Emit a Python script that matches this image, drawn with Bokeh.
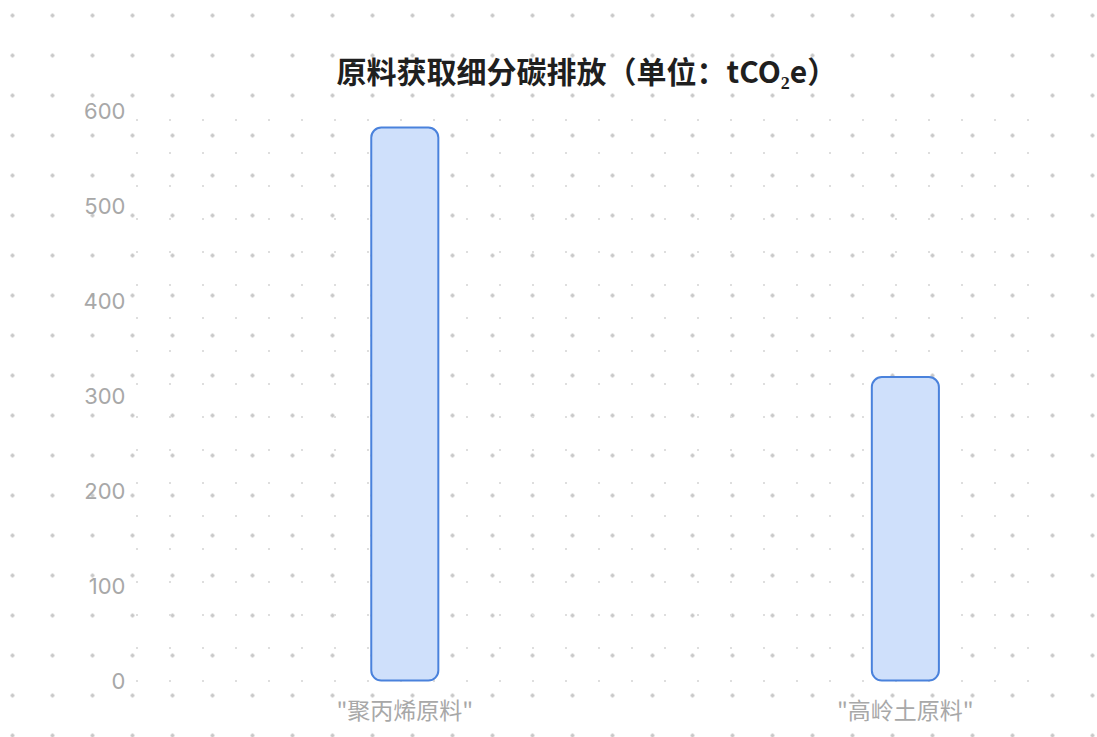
from bokeh.plotting import figure
from bokeh.models import Range1d, FixedTicker, BoxAnnotation, ColumnDataSource, ImageURLTexture, InlineStyleSheet
from bokeh.embed import file_html
from bokeh.resources import INLINE

categories = ['"聚丙烯原料"', '"高岭土原料"']
values = [583, 320]
y_ticks = [0, 100, 200, 300, 400, 500, 600]
title_text = "原料获取细分碳排放（单位：tCO₂e）"

x_pos = list(range(len(categories)))
src = ColumnDataSource(dict(x=x_pos, top=values))

W, H = 1097, 737
p = figure(width=W, height=H, output_backend="svg", toolbar_location=None,
           x_range=Range1d(-0.538, 1.252), y_range=Range1d(-10.5, 611.5),
           min_border_left=135, min_border_right=66, min_border_top=100, min_border_bottom=47)

p.background_fill_alpha = 0
p.border_fill_alpha = 0
p.outline_line_color = None
p.grid.grid_line_color = None

# page-wide dotted backdrop behind the transparent plot
p.stylesheets = [InlineStyleSheet(css=(
    ":host { background-color: #ffffff;"
    " background-image: radial-gradient(circle, #c9c9c9 1.6px, rgba(255,255,255,0) 1.8px);"
    " background-size: 40px 40px; background-position: -7.5px -4.5px; }"
))]

inner_tile = ("data:image/svg+xml;utf8,<svg xmlns='http://www.w3.org/2000/svg' width='33' height='33'>"
              "<rect x='4' y='20' width='2' height='2' fill='%23dedede'/></svg>")
p.add_layout(BoxAnnotation(fill_alpha=0, line_color=None, level="underlay",
                           hatch_pattern="innerdot",
                           hatch_extra={"innerdot": ImageURLTexture(url=inner_tile)}))

p.vbar(x="x", top="top", bottom=0, width=0.134, source=src,
       fill_color="#cfe0fb", line_color="#4a82dc", line_width=2, border_radius=10)

p.title.text = title_text
p.title.align = "left"
p.title.offset = 201
p.title.text_font = "Noto Sans CJK SC"
p.title.text_font_size = "30px"
p.title.text_font_style = "bold"
p.title.text_color = "#1f1f1f"
p.title.standoff = 17

p.xaxis.ticker = FixedTicker(ticks=x_pos)
p.xaxis.major_label_overrides = {i: c for i, c in zip(x_pos, categories)}
p.yaxis.ticker = FixedTicker(ticks=y_ticks)
for ax in (p.xaxis[0], p.yaxis[0]):
    ax.axis_line_color = None
    ax.major_tick_line_color = None
    ax.minor_tick_line_color = None
    ax.major_tick_out = 0
    ax.major_tick_in = 0
    ax.major_label_text_color = "#a8a8a8"
p.xaxis.major_label_standoff = 1
p.yaxis.major_label_standoff = 10
p.xaxis.major_label_text_font = "Noto Sans CJK SC"
p.xaxis.major_label_text_font_size = "23px"
p.yaxis.major_label_text_font = "Inter"
p.yaxis.major_label_text_font_size = "22px"

open("out.html", "w").write(file_html(p, INLINE))
